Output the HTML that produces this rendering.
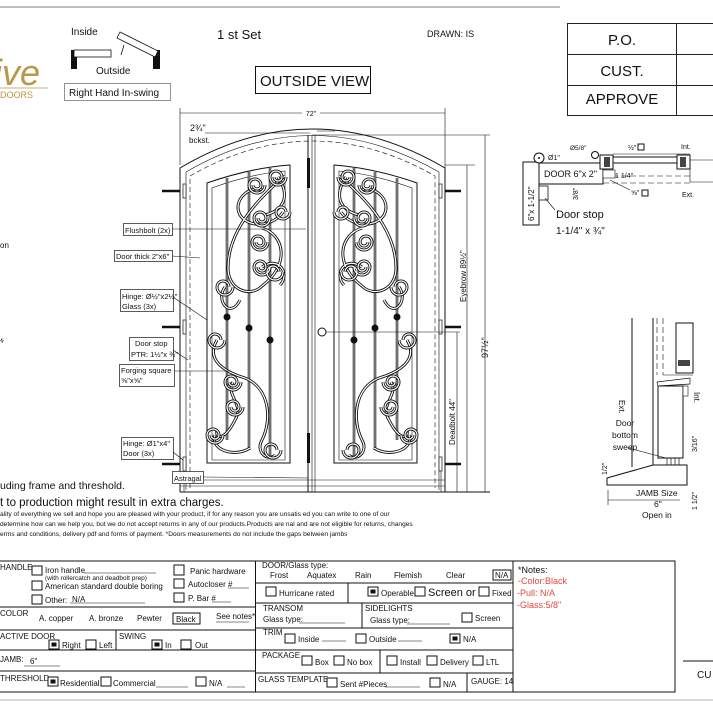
<!DOCTYPE html>
<html><head><meta charset="utf-8"><style>
html,body{margin:0;padding:0;background:#fff;width:713px;height:713px;overflow:hidden}
svg{display:block}
text{font-family:"Liberation Sans",sans-serif;fill:#111}
.f{font-size:8px}
.s{font-size:6.5px}
.l{fill:#fff;stroke:#333;stroke-width:.8}
.sc{fill:none;stroke:#111;stroke-width:3}
.sci{fill:none;stroke:#fff;stroke-width:1.2}
.ln{stroke:#111;stroke-width:1;fill:none}
.th{stroke:#111;stroke-width:.6;fill:none}
.cb{fill:#fff;stroke:#111;stroke-width:1}
.r{fill:#e8453c}
</style></head><body>
<svg width="713" height="713" viewBox="0 0 713 713" xmlns="http://www.w3.org/2000/svg">
<defs>
<g id="scrolls">
 <path d="M285,176 C262,195 228,228 228,268 C228,290 250,298 262,286" />
 <path d="M262,286 C290,265 285,235 262,228" />
 <path d="M283,212 C275,225 250,230 240,215 C232,200 250,185 262,190" />
 <path d="M278,177 C290,195 285,210 265,215" />
 <path d="M262,267 C280,255 290,275 280,285" />
 <path d="M225,287 C215,300 230,320 240,300" />
 <path d="M217,340 C205,360 225,372 245,378 C270,388 272,420 262,440 C255,452 268,462 275,455" />
 <path d="M233,382 C225,395 245,405 235,420 C225,440 215,440 217,430" />
 <path d="M215,435 C210,450 235,458 250,448" />
</g>
<g id="spirals">
 <path d="M286,177 A8,8 0 0 1 270,177 A6,6 0 0 1 282,177 A4,4 0 0 1 274,177"/>
 <path d="M265,185 A8,8 0 0 1 249,185 A6,6 0 0 1 261,185 A4,4 0 0 1 253,185"/>
 <path d="M270,218 A8,8 0 0 1 254,218 A6,6 0 0 1 266,218 A4,4 0 0 1 258,218"/>
 <path d="M290,212 A7,7 0 0 1 276,212 A5,5 0 0 1 286,212"/>
 <path d="M268,242 A8,8 0 0 1 252,242 A6,6 0 0 1 264,242 A4,4 0 0 1 256,242"/>
 <path d="M270,267 A8,8 0 0 1 254,267 A6,6 0 0 1 266,267 A4,4 0 0 1 258,267"/>
 <path d="M283,272 A8,8 0 0 1 267,272 A6,6 0 0 1 279,272"/>
 <path d="M233,287 A8,8 0 0 1 217,287 A6,6 0 0 1 229,287"/>
 <path d="M225,340 A8,8 0 0 1 209,340 A6,6 0 0 1 221,340"/>
 <path d="M241,382 A8,8 0 0 1 225,382 A6,6 0 0 1 237,382 A4,4 0 0 1 229,382"/>
 <path d="M243,407 A8,8 0 0 1 227,407 A6,6 0 0 1 239,407 A4,4 0 0 1 231,407"/>
 <path d="M223,435 A8,8 0 0 1 207,435 A6,6 0 0 1 219,435 A4,4 0 0 1 211,435"/>
 <path d="M281,450 A8,8 0 0 1 265,450 A6,6 0 0 1 277,450"/>
</g>
<g id="panel">
 <path d="M207,463 L207,183 Q250,168 290,165 L290,463 Z" class="ln"/>
 <path d="M212,460 L212,188 Q250,174 285,171 L285,460 Z" class="th"/>
 <line x1="227" y1="178" x2="227" y2="440" stroke="#111" stroke-width="2.5"/>
 <line x1="227" y1="178" x2="227" y2="440" stroke="#fff" stroke-width=".8"/>
 <line x1="249" y1="172" x2="249" y2="450" stroke="#111" stroke-width="2.5"/>
 <line x1="249" y1="172" x2="249" y2="450" stroke="#fff" stroke-width=".8"/>
 <line x1="270" y1="168" x2="270" y2="458" stroke="#111" stroke-width="2.5"/>
 <line x1="270" y1="168" x2="270" y2="458" stroke="#fff" stroke-width=".8"/>
 <use href="#scrolls" class="sc"/><use href="#scrolls" class="sci"/>
 <use href="#spirals" class="sc"/><use href="#spirals" class="sci"/>
 <circle cx="227" cy="317" r="3.5" fill="#111"/>
 <circle cx="249" cy="328" r="3.5" fill="#111"/>
 <circle cx="270" cy="340" r="3.5" fill="#111"/>
</g>
</defs>

<line x1="0" y1="7" x2="560" y2="7" stroke="#555" stroke-width=".8"/>

<text x="-6" y="85" font-family="Liberation Serif" font-style="italic" font-size="36" style="fill:#b8974a">ive</text>
<line x1="0" y1="88" x2="48" y2="88" stroke="#b8974a" stroke-width=".8"/>
<text x="0" y="98" font-family="Liberation Serif" font-size="9" style="fill:#b8974a">DOORS</text>

<text x="71" y="35" font-size="10">Inside</text>
<rect x="71" y="50" width="6" height="19" fill="#111"/>
<rect x="74" y="50" width="37" height="7" fill="#fff" stroke="#111" stroke-width=".8"/>
<rect x="153" y="50" width="7" height="19" fill="#111"/>
<polygon points="120,32 158,51 155,57 117,38" fill="#fff" stroke="#111" stroke-width=".8"/>
<line x1="121" y1="55" x2="124" y2="45" stroke="#111" stroke-width=".8"/>
<text x="96" y="74" font-size="10">Outside</text>
<rect x="64.5" y="83.5" width="106" height="17" fill="#fff" stroke="#777" stroke-width=".8"/>
<text x="69" y="96" font-size="10">Right Hand In-swing</text>

<text x="217" y="39" font-size="13">1 st Set</text>
<text x="427" y="37" font-size="9">DRAWN: IS</text>
<rect x="255.5" y="66.5" width="115" height="27" fill="#fff" stroke="#111" stroke-width="1"/>
<text x="260" y="86" font-size="15">OUTSIDE VIEW</text>

<rect x="567.5" y="23.5" width="150" height="92" fill="none" stroke="#222" stroke-width="1"/>
<line x1="567" y1="54.5" x2="713" y2="54.5" stroke="#222"/>
<line x1="567" y1="85.5" x2="713" y2="85.5" stroke="#222"/>
<line x1="676.5" y1="23" x2="676.5" y2="115" stroke="#222"/>
<text x="622" y="45" font-size="15" text-anchor="middle">P.O.</text>
<text x="622" y="76" font-size="15" text-anchor="middle">CUST.</text>
<text x="622" y="104" font-size="15" text-anchor="middle">APPROVE</text>

<line x1="180" y1="113" x2="445" y2="113" class="th"/>
<line x1="180" y1="108" x2="180" y2="165" class="th"/>
<line x1="445" y1="108" x2="445" y2="168" class="th"/>
<rect x="302" y="110" width="18" height="7" fill="#fff"/>
<text x="311" y="116" font-size="7" text-anchor="middle">72"</text>
<text x="190" y="131" font-size="9">2¾"</text>
<text x="189" y="143" font-size="8">bckst.</text>
<line x1="205" y1="133" x2="310" y2="133" class="th"/>
<line x1="317" y1="131" x2="335" y2="131" class="th"/>
<line x1="312" y1="135" x2="490" y2="135" class="th"/>

<path d="M180,492 L180,168 Q312,90 445,168 L445,492" class="ln" stroke-width="1.2"/>
<path d="M186,490 L186,172 Q312,99 439,172 L439,490" class="th"/>
<path d="M190,488 L190,176 Q312,106 435,176 L435,488" class="th" stroke-dasharray="5,3"/>
<line x1="308" y1="135" x2="308" y2="492" class="ln"/>
<line x1="312" y1="135" x2="312" y2="492" class="th"/>
<line x1="315" y1="135" x2="315" y2="492" class="th"/>
<rect x="307" y="158" width="3" height="30" fill="#111"/>
<rect x="307" y="433" width="3" height="30" fill="#111"/>
<line x1="180" y1="480" x2="445" y2="480" class="th"/>
<line x1="180" y1="486" x2="445" y2="486" class="th"/>
<line x1="180" y1="492" x2="490" y2="492" class="ln"/>
<line x1="184" y1="470" x2="184" y2="492" class="th"/>
<line x1="441" y1="470" x2="441" y2="492" class="th"/>

<g stroke="#111" stroke-width="2.5">
<line x1="162" y1="191" x2="180" y2="191"/><line x1="162" y1="327" x2="180" y2="327"/><line x1="162" y1="464" x2="180" y2="464"/>
<line x1="445" y1="191" x2="461" y2="191"/><line x1="445" y1="327" x2="461" y2="327"/><line x1="445" y1="464" x2="461" y2="464"/>
</g>
<g fill="#fff" stroke="#111" stroke-width=".7">
<rect x="183" y="184" width="3" height="14"/><rect x="183" y="320" width="3" height="14"/><rect x="183" y="457" width="3" height="14"/>
<rect x="439" y="184" width="3" height="14"/><rect x="439" y="320" width="3" height="14"/><rect x="439" y="457" width="3" height="14"/>
</g>

<use href="#panel"/>
<use href="#panel" transform="translate(624,0) scale(-1,1)"/>
<circle cx="322" cy="332" r="4" fill="#fff" stroke="#111"/>
<line x1="326" y1="332" x2="460" y2="332" class="th"/>

<line x1="457" y1="332" x2="457" y2="492" class="th"/>
<line x1="467" y1="165" x2="467" y2="492" class="th"/>
<line x1="485" y1="135" x2="485" y2="492" class="th"/>
<line x1="445" y1="165" x2="475" y2="165" class="th"/>
<text transform="translate(455,445) rotate(-90)" font-size="8">Deadbolt 44"</text>
<text transform="translate(466,302) rotate(-90)" font-size="8">Eyebrow 89½"</text>
<text transform="translate(488,358) rotate(-90)" font-size="9">97½"</text>

<g font-size="7.5">
<rect x="123.5" y="223.5" width="49" height="12" class="l"/><text x="125" y="233">Flushbolt (2x)</text>
<line x1="172" y1="229" x2="306" y2="229" class="th"/>
<rect x="114.5" y="250.5" width="58" height="11" class="l"/><text x="116" y="259">Door thick 2"x6"</text>
<line x1="172" y1="256" x2="200" y2="258" class="th"/>
<rect x="120.5" y="289.5" width="53" height="22" class="l"/><text x="122" y="299">Hinge: Ø½"x2½"</text><text x="122" y="309">Glass (3x)</text>
<line x1="173" y1="297" x2="207" y2="320" class="th"/>
<rect x="129.5" y="337.5" width="44" height="23" class="l"/><text x="135" y="346">Door stop</text><text x="131" y="357">PTR: 1½"x ¾"</text>
<line x1="173" y1="350" x2="188" y2="360" class="th"/>
<rect x="119.5" y="364.5" width="55" height="22" class="l"/><text x="121" y="373">Forging square</text><text x="121" y="383">⅝"x⅝"</text>
<line x1="174" y1="371" x2="230" y2="371" class="th"/>
<rect x="121.5" y="437.5" width="52" height="22" class="l"/><text x="123" y="446">Hinge: Ø1"x4"</text><text x="123" y="456">Door (3x)</text>
<line x1="173" y1="452" x2="183" y2="460" class="th"/>
<rect x="172.5" y="471.5" width="31" height="12" class="l"/><text x="174" y="481">Astragal</text>
<line x1="203" y1="477" x2="308" y2="478" class="th"/>
</g>

<text x="0" y="248" font-size="8">on</text>
<text x="0" y="342" font-size="7" transform="rotate(-40 3 340)">≠</text>

<text x="0" y="489" font-size="10.5">uding frame and threshold.</text>
<text x="0" y="506" font-size="11.5">t to production might result in extra charges.</text>
<text x="0" y="516" font-size="6.6">ality of everything we sell and hope you are pleased with your product, if for any reason you are unsatis    ed you can write to one of our</text>
<text x="0" y="526" font-size="6.6">determine how can we help you, but we do not accept returns in any of our products.Products are     nal and are not eligible for returns, changes</text>
<text x="0" y="536" font-size="6.6">erms and conditions, delivery pdf and forms of payment. *Doors measurements do not include the gaps between jambs</text>

<g>
<rect x="523" y="162" width="16" height="63" fill="#fff" stroke="#111"/>
<text transform="translate(534,221) rotate(-90)" font-size="8">6"x 1-1/2"</text>
<rect x="539" y="163" width="64" height="21" fill="#fff" stroke="#111"/>
<text x="544" y="177" font-size="9">DOOR 6"x 2"</text>
<rect x="539" y="186" width="9" height="14" fill="#fff" stroke="#111" stroke-width=".8"/>
<line x1="545" y1="198" x2="555" y2="210" class="th"/>
<circle cx="539" cy="158" r="5" fill="#fff" stroke="#111"/><circle cx="539" cy="158" r="1" fill="#111"/>
<text x="548" y="160" font-size="7">Ø1"</text>
<text x="570" y="150" font-size="6.5">Ø5/8"</text>
<circle cx="595" cy="155" r="3.5" fill="#fff" stroke="#111"/>
<rect x="600" y="155" width="13" height="14" fill="#fff" stroke="#111"/>
<rect x="604" y="157" width="6" height="10" fill="#444"/>
<rect x="613" y="157" width="64" height="6" fill="#fff" stroke="#111"/>
<rect x="677" y="155" width="13" height="14" fill="#fff" stroke="#111"/>
<rect x="680" y="157" width="6" height="10" fill="#444"/>
<line x1="613" y1="154" x2="690" y2="154" class="th"/>
<line x1="690" y1="160" x2="713" y2="160" class="th"/>
<line x1="690" y1="182" x2="713" y2="182" class="th"/>
<line x1="690" y1="160" x2="690" y2="182" class="th"/>
<line x1="603" y1="176" x2="690" y2="176" class="th" stroke-dasharray="6,3"/>
<line x1="603" y1="183" x2="690" y2="183" class="th" stroke-dasharray="6,3"/>
<rect x="603" y="170" width="12" height="8" fill="#fff" stroke="#111" stroke-width=".6"/>
<text x="615" y="178" font-size="7">1 1/4"</text>
<text x="628" y="150" font-size="7">½"</text><rect x="638" y="144" width="6" height="6" fill="none" stroke="#111"/>
<text x="631" y="195" font-size="7">⅝"</text><rect x="642" y="190" width="6" height="6" fill="none" stroke="#111"/>
<line x1="610" y1="180" x2="630" y2="190" class="th"/>
<text transform="translate(578,200) rotate(-90)" font-size="7">3/8"</text>
<text x="681" y="149" font-size="7">Int.</text>
<text x="682" y="197" font-size="7">Ext.</text>
<text x="556" y="218" font-size="11">Door stop</text>
<text x="556" y="234" font-size="10">1-1/4" x ¾"</text>
</g>

<g>
<line x1="632" y1="318" x2="632" y2="467" class="ln"/>
<line x1="653" y1="318" x2="653" y2="465" class="ln"/>
<line x1="657" y1="318" x2="657" y2="375" class="th" stroke-dasharray="6,3"/>
<line x1="663" y1="318" x2="663" y2="375" class="th" stroke-dasharray="6,3"/>
<rect x="676" y="323" width="17" height="50" fill="#fff" stroke="#111"/>
<rect x="678" y="360" width="12" height="6" fill="#444"/>
<line x1="663" y1="375" x2="693" y2="375" class="th"/>
<polygon points="657,382 690,378 690,384 658,386" fill="#fff" stroke="#111" stroke-width=".7"/>
<rect x="658" y="386" width="25" height="72" fill="#fff" stroke="#111"/>
<rect x="683" y="386" width="5" height="10" fill="#fff" stroke="#111" stroke-width=".6"/>
<g stroke="#111" stroke-width=".7"><line x1="667" y1="458" x2="667" y2="467"/><line x1="671" y1="458" x2="671" y2="467"/><line x1="675" y1="458" x2="675" y2="467"/><line x1="679" y1="458" x2="679" y2="467"/></g>
<polygon points="607,478 653,465 687,465 687,485 607,485" fill="#fff" stroke="#111"/>
<line x1="608" y1="490" x2="608" y2="505" class="th"/>
<line x1="608" y1="500" x2="680" y2="500" class="th"/>
<text transform="translate(619,400) rotate(90)" font-size="8">Ext.</text>
<text transform="translate(694,392) rotate(90)" font-size="8">Int.</text>
<text x="625" y="426" font-size="8.5" text-anchor="middle">Door</text>
<text x="625" y="438" font-size="8.5" text-anchor="middle">bottom</text>
<text x="625" y="450" font-size="8.5" text-anchor="middle">sweep</text>
<line x1="628" y1="448" x2="666" y2="458" class="th"/>
<text x="636" y="496" font-size="8.5">JAMB Size</text>
<text x="654" y="507" font-size="8.5">6"</text>
<text x="642" y="518" font-size="8.5">Open in</text>
<text transform="translate(607,475) rotate(-90)" font-size="7">1/2"</text>
<text transform="translate(697,452) rotate(-90)" font-size="7">3/16"</text>
<text transform="translate(697,510) rotate(-90)" font-size="7">1 1/2"</text>
</g>

<g stroke="#111" stroke-width="1" fill="none">
<line x1="0" y1="561" x2="513" y2="561"/>
<line x1="0" y1="692" x2="513" y2="692"/>
<line x1="0" y1="607" x2="255" y2="607"/>
<line x1="0" y1="630" x2="255" y2="630"/>
<line x1="0" y1="650" x2="255" y2="650"/>
<line x1="0" y1="671" x2="255" y2="671"/>
<line x1="255.5" y1="561" x2="255.5" y2="692"/>
<line x1="255" y1="583" x2="513" y2="583"/>
<line x1="255" y1="603" x2="513" y2="603"/>
<line x1="255" y1="628" x2="513" y2="628"/>
<line x1="255" y1="650" x2="513" y2="650"/>
<line x1="255" y1="673" x2="513" y2="673"/>
<line x1="116" y1="630" x2="116" y2="650"/>
<line x1="348" y1="583" x2="348" y2="603"/>
<line x1="362" y1="603" x2="362" y2="628"/>
<line x1="380" y1="650" x2="380" y2="673"/>
<line x1="467" y1="673" x2="467" y2="692"/>
<rect x="513" y="561" width="162" height="131"/>
</g>
<line x1="0" y1="700" x2="713" y2="700" stroke="#999" stroke-width=".8"/>
<line x1="683" y1="661" x2="713" y2="661" stroke="#111" stroke-width="1"/>
<text x="697" y="678" font-size="10">CU</text>

<g class="f">
<text x="0" y="570">HANDLE</text>
<rect x="32" y="566" width="10" height="9" class="cb"/><text x="45" y="573">Iron handle</text>
<line x1="84" y1="573" x2="156" y2="573" class="th"/>
<text x="45" y="580" class="s" font-size="5.5">(with rollercatch and deadbolt prep)</text>
<rect x="32" y="581" width="10" height="9" class="cb"/><text x="45" y="589">American standard double boring</text>
<rect x="32" y="595" width="10" height="9" class="cb"/><text x="45" y="603">Other:</text><text x="72" y="602">N/A</text>
<line x1="70" y1="603" x2="145" y2="603" class="th"/>
<rect x="174" y="565" width="10" height="10" class="cb"/><text x="190" y="574">Panic hardware</text>
<rect x="174" y="579" width="10" height="9" class="cb"/><text x="188" y="587">Autocloser #</text>
<line x1="228" y1="588" x2="249" y2="588" class="th"/>
<rect x="174" y="593" width="10" height="9" class="cb"/><text x="188" y="601">P. Bar #</text>
<line x1="212" y1="602" x2="231" y2="602" class="th"/>

<text x="0" y="616">COLOR</text>
<text x="39" y="621">A. copper</text><text x="89" y="621">A. bronze</text><text x="137" y="621">Pewter</text>
<rect x="173" y="613" width="27" height="11" class="cb"/><text x="176" y="622">Black</text>
<text x="216" y="619">See notes*</text>
<line x1="216" y1="622" x2="249" y2="622" class="th"/>

<text x="0" y="639">ACTIVE DOOR</text>
<rect x="49" y="640" width="10" height="9" class="cb"/><rect x="51.5" y="642.5" width="5" height="4" fill="#111"/>
<text x="62" y="648">Right</text>
<rect x="86" y="640" width="10" height="9" class="cb"/><text x="99" y="648">Left</text>
<text x="119" y="639">SWING</text>
<rect x="152" y="640" width="10" height="9" class="cb"/><rect x="154.5" y="642.5" width="5" height="4" fill="#111"/>
<text x="165" y="648">In</text>
<rect x="181" y="640" width="10" height="9" class="cb"/><text x="195" y="648">Out</text>

<text x="0" y="662">JAMB:</text><text x="30" y="664">6"</text>
<line x1="24" y1="666" x2="60" y2="666" class="th"/>

<text x="0" y="681">THRESHOLD</text>
<rect x="48" y="677" width="10" height="9" class="cb"/><rect x="50.5" y="679.5" width="5" height="4" fill="#111"/>
<text x="60" y="686">Residential</text>
<rect x="101" y="677" width="10" height="9" class="cb"/><text x="113" y="686">Commercial</text>
<line x1="156" y1="687" x2="188" y2="687" class="th"/>
<rect x="196" y="677" width="10" height="9" class="cb"/><text x="209" y="686">N/A</text>
<line x1="227" y1="687" x2="245" y2="687" class="th"/>

<text x="262" y="568">DOOR/Glass type:</text>
<text x="270" y="578">Frost</text><text x="307" y="578">Aquatex</text><text x="355" y="578">Rain</text>
<text x="394" y="578">Flemish</text><text x="446" y="578">Clear</text>
<rect x="493" y="570" width="18" height="10" class="cb"/><text x="495" y="578">N/A</text>
<rect x="266" y="587" width="10" height="9" class="cb"/><text x="279" y="596">Hurricane rated</text>
<rect x="368" y="587" width="10" height="9" class="cb"/><rect x="370.5" y="589.5" width="5" height="4" fill="#111"/>
<text x="381" y="596">Operable</text>
<rect x="415" y="587" width="10" height="9" class="cb"/><text x="428" y="596" font-size="11">Screen or</text>
<rect x="479" y="587" width="10" height="9" class="cb"/><text x="492" y="596">Fixed</text>

<text x="263" y="611">TRANSOM</text><text x="263" y="622">Glass type:</text>
<line x1="299" y1="623" x2="345" y2="623" class="th"/>
<text x="365" y="611">SIDELIGHTS</text><text x="370" y="623">Glass type:</text>
<line x1="407" y1="624" x2="450" y2="624" class="th"/>
<rect x="462" y="613" width="10" height="9" class="cb"/><text x="475" y="621">Screen</text>

<text x="263" y="635">TRIM</text>
<rect x="285" y="634" width="10" height="9" class="cb"/><text x="298" y="642">Inside</text>
<line x1="322" y1="641" x2="346" y2="641" class="th"/>
<rect x="356" y="634" width="10" height="9" class="cb"/><text x="369" y="642">Outside</text>
<line x1="398" y1="641" x2="422" y2="641" class="th"/>
<rect x="450" y="634" width="10" height="9" class="cb"/><rect x="452.5" y="636.5" width="5" height="4" fill="#111"/>
<text x="463" y="642">N/A</text>

<text x="262" y="658">PACKAGE</text>
<rect x="302" y="656" width="10" height="9" class="cb"/><text x="315" y="665">Box</text>
<rect x="334" y="656" width="10" height="9" class="cb"/><text x="347" y="665">No box</text>
<rect x="387" y="656" width="10" height="9" class="cb"/><text x="400" y="665">Install</text>
<rect x="427" y="656" width="10" height="9" class="cb"/><text x="440" y="665">Delivery</text>
<rect x="473" y="656" width="10" height="9" class="cb"/><text x="486" y="665">LTL</text>

<text x="258" y="682">GLASS TEMPLATE</text>
<rect x="327" y="678" width="10" height="9" class="cb"/><text x="340" y="687">Sent #Pieces</text>
<line x1="385" y1="687" x2="420" y2="687" class="th"/>
<rect x="430" y="678" width="10" height="9" class="cb"/><text x="443" y="687">N/A</text>
<text x="471" y="684">GAUGE: 14</text>
</g>

<text x="518" y="573" font-size="9">*Notes:</text>
<text x="518" y="584" font-size="9" class="r">-Color:Black</text>
<text x="517" y="596" font-size="9" class="r">-Pull: N/A</text>
<text x="517" y="608" font-size="9" class="r">-Glass:5/8"</text>
</svg>
</body></html>
